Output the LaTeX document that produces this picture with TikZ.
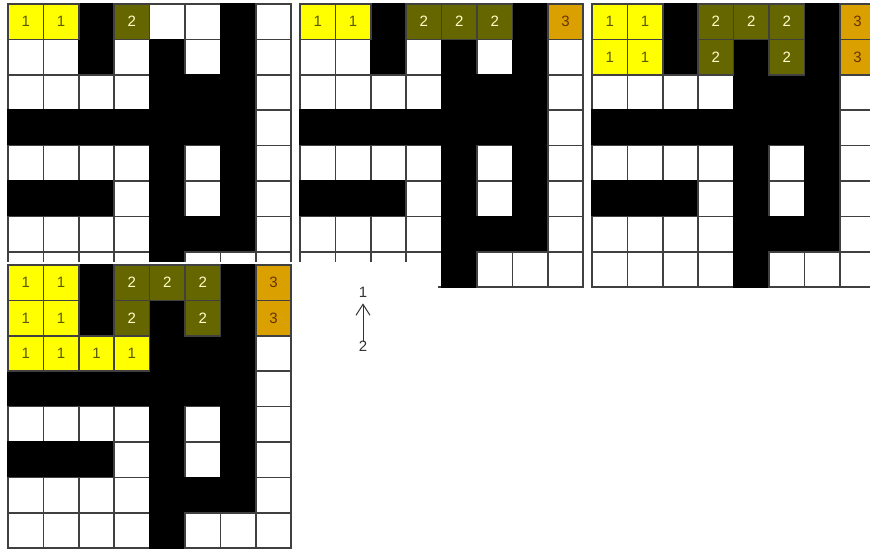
\documentclass[tikz,border=0pt]{standalone}
\usepackage{fontspec}
\setmainfont{Liberation Sans}
\usetikzlibrary{arrows.meta}
\definecolor{labOneFill}{RGB}{255,255,0}
\definecolor{labOneText}{RGB}{90,90,0}
\definecolor{labTwoFill}{RGB}{102,102,0}
\definecolor{labTwoText}{RGB}{255,255,204}
\definecolor{labThreeFill}{RGB}{218,160,0}
\definecolor{labThreeText}{RGB}{102,51,0}
\tikzset{
    cell/.style={rectangle, draw=black!75, line width=1.6pt, minimum size=35.4pt, inner sep=0pt, font=\fontsize{15}{17}\selectfont},
    cell-W/.style={cell, fill=white},
    cell-B/.style={cell, fill=black, draw=black},
    lab1/.style={cell, fill=labOneFill, text=labOneText},
    lab2/.style={cell, fill=labTwoFill, text=labTwoText},
    lab3/.style={cell, fill=labThreeFill, text=labThreeText},
    digit/.style={inner sep=1pt, text=black!80, font=\fontsize{15}{17}\selectfont},
}
% one 8x8 maze, #1 name, (#2,#3) top left corner
\newcommand{\mazegrid}[3]{%
    \begin{scope}[shift={(#2,#3)}]
        \foreach \rowcells [count=\r from 0] in {{W,W,B,W,W,W,B,W},{W,W,B,W,B,W,B,W},
                {W,W,W,W,B,B,B,W},{B,B,B,B,B,B,B,W},{W,W,W,W,B,W,B,W},
                {B,B,B,W,B,W,B,W},{W,W,W,W,B,B,B,W},{W,W,W,W,B,W,W,W}}
            \foreach \k [count=\c from 0] in \rowcells
                \node[cell-\k] (#1-\r-\c) at (\c*35.4+17.7, \r*35.4+17.7) {};
    \end{scope}}
% labelled cells, list of col/row/label
\newcommand{\mazelabels}[2]{%
    \foreach \c/\r/\n in {#2}
        \node[lab\n] (#1-\r-\c-lab) at (#1-\r-\c) {\n};}

\begin{document}
\begin{tikzpicture}[x=1pt, y=-1pt]
    \useasboundingbox (0,0) rectangle (870,550);
    \clip (0,0) rectangle (870,550);

    \mazegrid{one}{8}{4}
    \mazelabels{one}{0/0/1, 1/0/1, 3/0/2}

    \mazegrid{two}{300}{4}
    \mazelabels{two}{0/0/1, 1/0/1, 3/0/2, 4/0/2, 5/0/2, 7/0/3}

    \mazegrid{three}{592}{4}
    \mazelabels{three}{0/0/1, 1/0/1, 3/0/2, 4/0/2, 5/0/2, 7/0/3,
        0/1/1, 1/1/1, 3/1/2, 5/1/2, 7/1/3}

    % last step lies over the others
    \fill[white] (0,262) rectangle (438,550);
    \mazegrid{four}{8}{265}
    \mazelabels{four}{0/0/1, 1/0/1, 3/0/2, 4/0/2, 5/0/2, 7/0/3,
        0/1/1, 1/1/1, 3/1/2, 5/1/2, 7/1/3,
        0/2/1, 1/2/1, 2/2/1, 3/2/1}

    \node[digit] (upper) at (363,292) {1};
    \node[digit] (lower) at (363,346) {2};
    \draw[-{Straight Barb[length=11pt, width=14pt]}, line width=1pt, black!80, shorten >=5pt, shorten <=-2pt] (lower) -- (upper);
\end{tikzpicture}
\end{document}
